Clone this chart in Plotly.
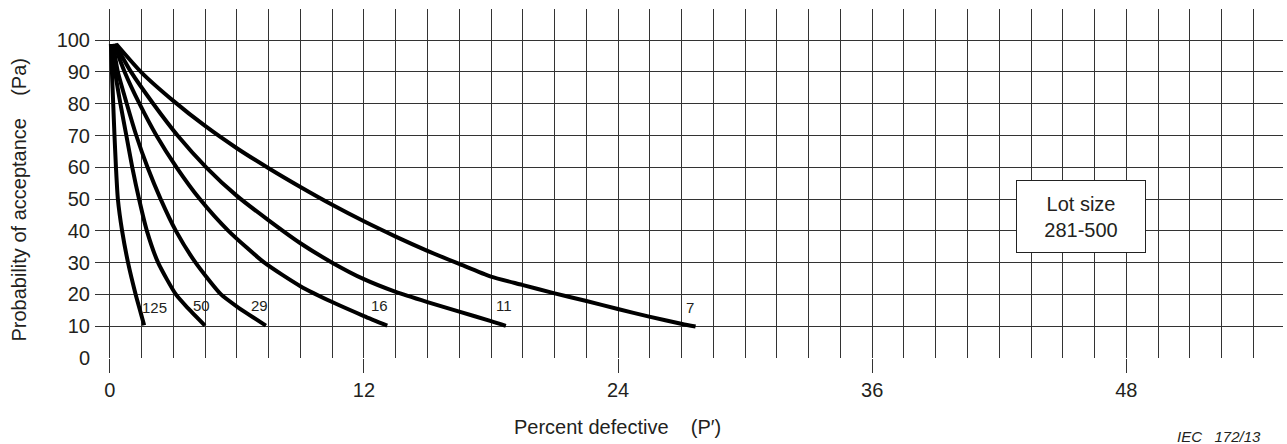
import plotly.graph_objects as go

# ---- data (Percent defective P', Probability of acceptance Pa) ----
sample_sizes = ["125", "50", "29", "16", "11", "7"]

c125_x = [0.05, 0.10, 0.16, 0.22, 0.29, 0.38, 0.58, 0.86, 1.22, 1.46, 1.62]
c125_y = [98.8, 90, 80, 70, 60, 50, 40, 30, 20, 14.2, 10.3]

c50_x = [0.10, 0.25, 0.50, 0.78, 1.06, 1.38, 1.75, 2.28, 3.12, 3.70, 4.49]
c50_y = [98.8, 90, 80, 70, 60, 50, 40, 30, 20, 15.6, 10.2]

c29_x = [0.15, 0.38, 0.80, 1.25, 1.78, 2.40, 3.12, 4.05, 5.25, 6.00, 7.37]
c29_y = [98.8, 90, 80, 70, 60, 50, 40, 30, 20, 16.2, 10.2]

c16_x = [0.20, 0.70, 1.40, 2.20, 3.15, 4.25, 5.60, 7.30, 9.00, 10.50, 12.00, 13.10]
c16_y = [98.8, 90, 80, 70, 60, 50, 40, 30, 22.6, 17.6, 13.2, 10.2]

c11_x = [0.25, 1.00, 2.05, 3.20, 4.55, 6.00, 7.50, 9.00, 10.50, 12.00, 13.50, 15.00, 16.50, 18.00, 18.70]
c11_y = [98.8, 90, 80, 70, 60, 51.0, 43.3, 36.1, 30.0, 24.8, 20.8, 17.6, 14.6, 11.6, 10.1]

c7_x = [0.30, 1.50, 3.00, 4.50, 6.00, 7.50, 9.00, 10.50, 12.00, 13.50, 14.97, 16.50, 18.00,
        19.47, 20.96, 22.46, 23.99, 25.47, 27.03, 27.66]
c7_y = [98.8, 89.8, 80.9, 73.0, 66.0, 59.7, 53.8, 48.2, 43.0, 38.2, 33.8, 29.6, 25.6,
        23.0, 20.4, 18.0, 15.4, 13.0, 10.7, 9.9]

label_x = [2.13, 4.33, 7.05, 12.72, 18.63, 27.42]
label_y = [16.0, 16.5, 16.4, 16.6, 16.5, 16.0]

x_tick_vals = [0, 12, 24, 36, 48]
y_tick_vals = [0, 10, 20, 30, 40, 50, 60, 70, 80, 90, 100]

curves = [(c125_x, c125_y), (c50_x, c50_y), (c29_x, c29_y),
          (c16_x, c16_y), (c11_x, c11_y), (c7_x, c7_y)]

FONT = "Liberation Sans, Arial, Helvetica, sans-serif"
TXT = "#231f20"
GRID = "#333333"

fig = go.Figure()
for (xs, ys), name in zip(curves, sample_sizes):
    fig.add_trace(go.Scatter(
        x=xs, y=ys, mode="lines", name=name,
        line=dict(color="black", width=4, shape="spline", smoothing=0.6),
        hoverinfo="skip", showlegend=False,
    ))

annotations = []
for lx, ly, txt in zip(label_x, label_y, sample_sizes):
    annotations.append(dict(x=lx, y=ly, xref="x", yref="y", text=txt, showarrow=False,
                            font=dict(family=FONT, size=15, color=TXT),
                            xanchor="center", yanchor="middle"))

# Lot size box
annotations.append(dict(x=45.86, y=44.4, xref="x", yref="y",
                        text="Lot size<br>281-500", showarrow=False,
                        font=dict(family=FONT, size=20, color=TXT),
                        align="center", bgcolor="white", bordercolor="#222",
                        borderwidth=1, borderpad=2, width=124, height=67,
                        xanchor="center", yanchor="middle"))

# Axis titles
annotations.append(dict(x=0.440, y=-0.198, xref="paper", yref="paper",
                        text="Percent defective\u00a0\u00a0\u00a0\u00a0(P\u2032)", showarrow=False,
                        font=dict(family=FONT, size=20, color=TXT),
                        xanchor="center", yanchor="middle"))
annotations.append(dict(x=-0.064, y=0.454, xref="paper", yref="paper",
                        text="Probability of acceptance\u00a0\u00a0\u00a0\u00a0(Pa)", showarrow=False,
                        textangle=-90,
                        font=dict(family=FONT, size=20, color=TXT),
                        xanchor="center", yanchor="middle"))
# Figure reference
annotations.append(dict(x=(1219 - 95) / 1188, y=(358 - 436) / 349, xref="paper", yref="paper",
                        text="<i>IEC\u00a0\u00a0\u00a0172/13</i>", showarrow=False,
                        font=dict(family=FONT, size=15, color=TXT),
                        xanchor="center", yanchor="middle"))

fig.update_layout(
    width=1287, height=444,
    margin=dict(l=95, r=4, t=9, b=86),
    paper_bgcolor="white", plot_bgcolor="white",
    annotations=annotations,
    xaxis=dict(
        range=[-0.7, 55.4],
        tickmode="array", tickvals=x_tick_vals, ticktext=[str(v) for v in x_tick_vals],
        ticks="outside", ticklen=14, tickwidth=1, tickcolor=GRID,
        showgrid=True, gridcolor=GRID, gridwidth=1,
        minor=dict(tick0=0, dtick=1.5, showgrid=True, gridcolor=GRID, gridwidth=1, ticks=""),
        zeroline=False, showline=False,
        tickfont=dict(family=FONT, size=20, color=TXT),
    ),
    yaxis=dict(
        range=[0, 109.8],
        tickmode="array", tickvals=y_tick_vals, ticktext=[str(v) for v in y_tick_vals],
        ticks="", showgrid=True, gridcolor=GRID, gridwidth=1,
        zeroline=False, showline=False,
        ticklabelstandoff=4,
        tickfont=dict(family=FONT, size=20, color=TXT),
    ),
)

fig.write_html("out.html", config={"displayModeBar": False},
               post_script="document.body.style.margin='0px';document.body.style.padding='0px';document.body.style.overflow='hidden';")
